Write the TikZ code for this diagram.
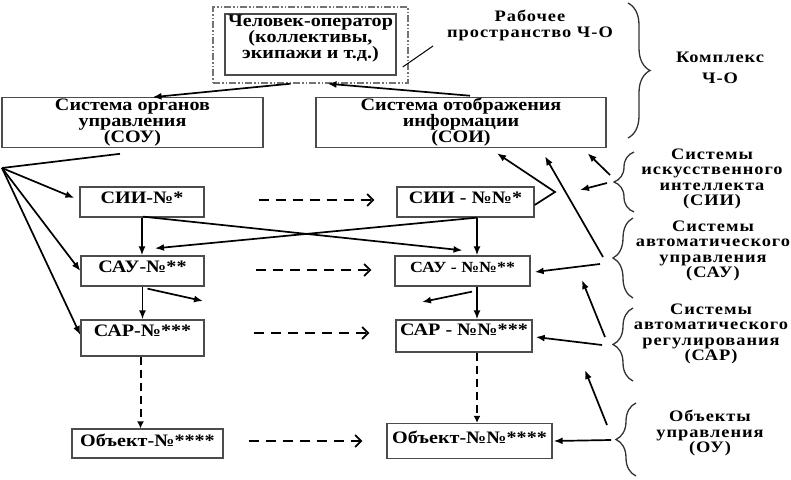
\documentclass[tikz,border=0pt]{standalone}
\usepackage{fontspec}
\setmainfont{Liberation Serif}[FakeStretch=1.15]
\usetikzlibrary{arrows.meta,decorations.pathreplacing,calc}
\begin{document}
\begin{tikzpicture}[x=1pt,y=-1pt,
  box/.style={draw=black!70, line width=1.3pt, inner sep=1pt, align=center,
    font=\bfseries\fontsize{17.5}{16}\selectfont},
  txt/.style={inner sep=1pt, align=center, font=\bfseries\fontsize{17.5}{16}\selectfont},
  lbl/.style={inner sep=1pt, align=center, font=\bfseries\fontsize{16}{15.5}\selectfont\addfontfeature{LetterSpace=6}},
  arr/.style={-{Latex[length=9pt,width=7pt]}, line width=1.7pt},
  plain/.style={line width=1.7pt},
  dar/.style={dash pattern=on 10pt off 7pt, line width=1.7pt,
    -{Straight Barb[length=6pt,width=12pt,line width=1.7pt]}},
  vdar/.style={dash pattern=on 8pt off 5pt, line width=2pt, -{Latex[length=7pt,width=7pt]}},
  brc/.style={decorate, decoration={brace, amplitude=20pt}, line width=1.3pt, draw=black!80}]
\useasboundingbox (0,0) rectangle (791,479);

% top
\node[draw=black!55, line width=1.4pt, dash pattern=on 7pt off 2pt on 1.5pt off 2pt on 1.5pt off 2pt,
  minimum width=195pt, minimum height=76pt] (ws) at (310.5,45) {};
\node[box, minimum width=171pt, minimum height=61pt] (op) at (310.5,44.5) {};
\node[txt, anchor=north] (optxt) at ([yshift=-0.5pt]op.north) {Человек-оператор\\(коллективы,\\экипажи и т.д.)};
\node[lbl] (lW) at (530,25.5) {Рабочее\\пространство Ч-О};
\coordinate (lead) at (433,46);
\draw[line width=1pt] (lead) -- ([xshift=-6pt,yshift=-22pt]ws.east);

\node[box, minimum width=261pt, minimum height=49pt] (sou) at (132.5,122.5) {Система органов\\управления\\(СОУ)};
\node[box, minimum width=290pt, minimum height=49pt] (soi) at (461,122.5) {Система отображения\\информации\\(СОИ)};

% left column
\node[box, minimum width=124pt, minimum height=30pt, text depth=9pt] (s1) at (142,202) {СИИ-№*};
\node[box, minimum width=123pt, minimum height=30pt, text depth=8pt] (a1) at (142.5,271) {САУ-№**};
\node[box, minimum width=123pt, minimum height=36pt, text depth=15pt] (r1) at (142.5,338) {САР-№***};
\node[box, minimum width=151pt, minimum height=29pt, text depth=7pt] (o1) at (147.5,443.5) {Объект-№****};

% right column
\node[box, minimum width=137pt, minimum height=30pt, text depth=8pt] (s2) at (465.5,202) {СИИ - №№*};
\node[box, minimum width=135pt, minimum height=30pt, text depth=7pt,
  font=\bfseries\fontsize{15.5}{15}\selectfont] (a2) at (462.5,271) {САУ - №№**};
\node[box, minimum width=136pt, minimum height=32pt, text depth=12pt] (r2) at (464,336) {САР - №№***};
\node[box, minimum width=165pt, minimum height=35pt, text depth=8pt] (o2) at (469.5,441) {Объект-№№****};

% labels on the right
\node[lbl] (lK) at (720,68) {Комплекс\\[5pt]Ч-О};
\node[lbl] (lS) at (712,179) {Системы\\искусственного\\интеллекта\\(СИИ)};
\node[lbl] (lA) at (713,251) {Системы\\автоматического\\управления\\(САУ)};
\node[lbl] (lR) at (711,334) {Системы\\автоматического\\регулирования\\(САР)};
\node[lbl] (lO) at (710,433) {Объекты\\управления\\(ОУ)};

% braces
\draw[brc, decoration={amplitude=22pt}] (628,3) -- (628,138);
\draw[brc] (634,212) -- (634,152);
\draw[brc] (633,298) -- (633,218);
\draw[brc] (633,381) -- (633,308);
\draw[brc] (636,476) -- (636,403);

% top connectors
\draw[arr] ([xshift=-20pt]ws.south) -- ([xshift=20pt]sou.north);
\draw[arr] ([xshift=9pt,yshift=1pt]soi.north) -- ([xshift=17pt]ws.south);

% fan from СОУ
\coordinate (fan) at (2,168);
\draw[plain] ([xshift=-12.5pt,yshift=-6pt]sou.south) -- (fan);
\draw[arr] (fan) -- ([xshift=-5pt,yshift=4pt]s1.west);
\draw[arr] (fan) -- (a1.west);
\draw[arr] (fan) -- ([yshift=3pt]r1.west);

% left vertical
\draw[arr] (s1.south) -- (s1.south |- a1.north);
\draw[arr] (a1.south) -- (a1.south |- r1.north);
\draw[vdar] ([xshift=-2pt]r1.south) -- ([xshift=-2pt]r1.south |- o1.north);
\coordinate (a1out) at (203,301);
\draw[arr] ([xshift=5pt,yshift=-2pt]a1.south) -- (a1out);

% horizontal dashed
\draw[dar, shorten <=54pt, shorten >=22pt] ([yshift=2pt]s1.east) -- ([yshift=2pt]s2.west);
\draw[dar, shorten <=51pt, shorten >=23pt] ([yshift=1pt]a1.east) -- ([yshift=1pt]a2.west);
\draw[dar, shorten <=49pt, shorten >=26pt] ([yshift=5pt]r1.east) -- ([yshift=3pt]r2.west);
\draw[dar, shorten <=25pt, shorten >=24pt] ([yshift=2.5pt]o1.east) -- (o2.west);

% crossing
\draw[arr] ([xshift=1pt,yshift=1pt]s1.south) -- ([yshift=5pt]a2.north);
\draw[arr] ([xshift=11.5pt]s2.south) -- ([xshift=12.5pt,yshift=7pt]a1.north);

% right vertical
\draw[arr] ([xshift=11.5pt]s2.south) -- ([xshift=11.5pt]s2.south |- a2.north);
\draw[arr] ([xshift=14.5pt]a2.south) -- ([xshift=14.5pt]a2.south |- r2.north);
\draw[vdar] ([xshift=13pt]r2.south) -- ([xshift=13pt]r2.south |- o2.north);
\coordinate (a2out) at (422,302);
\draw[arr] ([xshift=9.5pt,yshift=-5pt]a2.south) -- (a2out);

% СИИ-№№* to СОИ
\coordinate (v1) at (555,192);
\draw[arr, line join=miter] ([yshift=-3pt]s2.east) -- (v1) -- ([xshift=36pt,yshift=-5pt]soi.south);

% arrows from braces
\coordinate (kS1) at (610,175); \coordinate (kS2) at (607,183);
\coordinate (kA1) at (603,257); \coordinate (kA2) at (600,264);
\coordinate (kR1) at (605,337); \coordinate (kR2) at (602,345);
\coordinate (kO1) at (607,425); \coordinate (kO2) at (611,440);
\coordinate (fS) at (580,190);
\coordinate (fR) at (582,280);
\coordinate (fO) at (585,370);
\draw[arr] (kS1) -- ([xshift=-19pt,yshift=-5pt]soi.south east);
\draw[arr] (kS2) -- (fS);
\draw[arr] (kA1) -- ([xshift=84pt,yshift=-8pt]soi.south);
\draw[arr] (kA2) -- ([xshift=4pt,yshift=-1pt]a2.east);
\draw[arr] (kR1) -- (fR);
\draw[arr] (kR2) -- ([xshift=3pt,yshift=-1pt]r2.east);
\draw[arr] (kO1) -- (fO);
\draw[arr] (kO2) -- ([xshift=1pt]o2.east);
\end{tikzpicture}
\end{document}
